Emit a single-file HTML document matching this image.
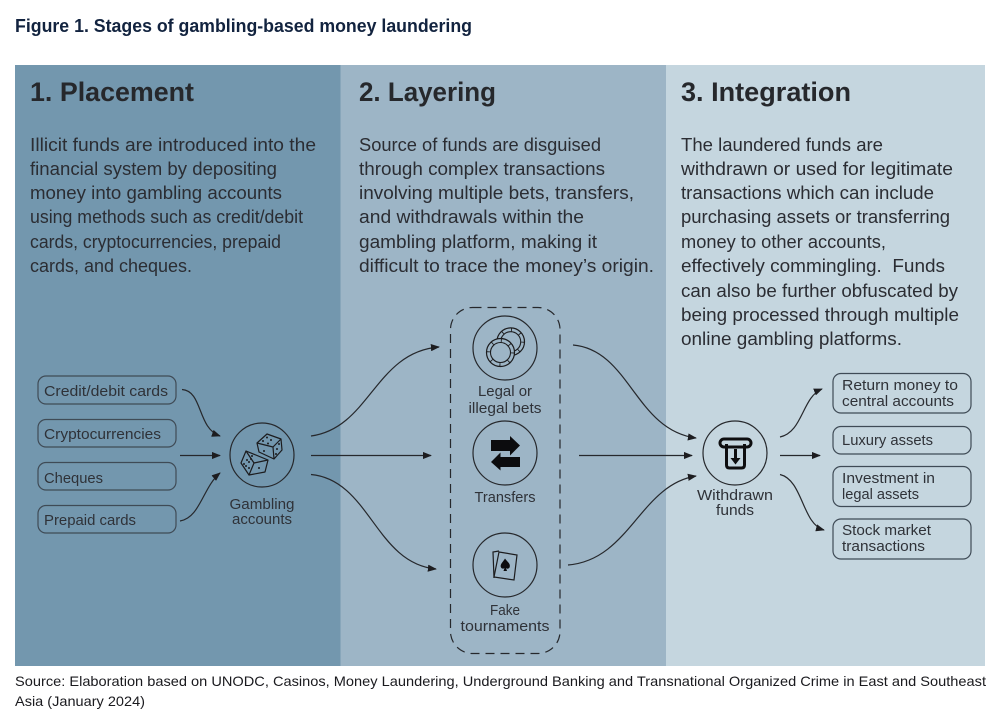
<!DOCTYPE html>
<html><head><meta charset="utf-8"><title>Figure 1</title>
<style>html,body{margin:0;padding:0;background:#fff;width:1006px;height:720px;overflow:hidden}
svg{display:block}
text{font-family:"Liberation Sans",sans-serif;fill:#2b2d33}
.b{font-size:18px}.s{font-size:15px;fill:#2f3238}.h{font-size:27px;font-weight:bold;fill:#26282c}
.c{fill:none;stroke:#26282c;stroke-width:1.2}.box{fill:none;stroke:#3f4b56;stroke-width:1.2}
.ic{fill:none;stroke:#1c1c1e;stroke-width:1.2}
</style></head><body>
<svg width="1006" height="720" viewBox="0 0 1006 720" xmlns="http://www.w3.org/2000/svg">
<defs><marker id="a" viewBox="0 0 10 8" refX="9" refY="4" markerWidth="9" markerHeight="7.2" markerUnits="userSpaceOnUse" orient="auto"><path d="M0 0L10 4L0 8Z" fill="#1d1d20"/></marker></defs>
<rect width="1006" height="720" fill="#fff"/>
<rect x="15" y="65" width="325.500" height="601" fill="#7397ae"/>
<rect x="340.500" y="65" width="325.500" height="601" fill="#9db5c6"/>
<rect x="666" y="65" width="319" height="601" fill="#c5d6df"/>
<text x="15" y="32" font-size="18" font-weight="bold" style="fill:#12233f" textLength="457" lengthAdjust="spacingAndGlyphs">Figure 1. Stages of gambling-based money laundering</text>
<text class="h" x="30" y="101" textLength="164" lengthAdjust="spacingAndGlyphs">1. Placement</text>
<text class="h" x="359" y="101" textLength="137" lengthAdjust="spacingAndGlyphs">2. Layering</text>
<text class="h" x="681" y="101" textLength="170" lengthAdjust="spacingAndGlyphs">3. Integration</text>
<g class="b">
<text class="b" x="30" y="151" textLength="286" lengthAdjust="spacingAndGlyphs">Illicit funds are introduced into the</text>
<text class="b" x="30" y="175" textLength="247" lengthAdjust="spacingAndGlyphs">financial system by depositing</text>
<text class="b" x="30" y="199" textLength="252" lengthAdjust="spacingAndGlyphs">money into gambling accounts</text>
<text class="b" x="30" y="223" textLength="273" lengthAdjust="spacingAndGlyphs">using methods such as credit/debit</text>
<text class="b" x="30" y="248" textLength="251" lengthAdjust="spacingAndGlyphs">cards, cryptocurrencies, prepaid</text>
<text class="b" x="30" y="272" textLength="162" lengthAdjust="spacingAndGlyphs">cards, and cheques.</text>
<text class="b" x="359" y="151" textLength="242" lengthAdjust="spacingAndGlyphs">Source of funds are disguised</text>
<text class="b" x="359" y="175" textLength="246" lengthAdjust="spacingAndGlyphs">through complex transactions</text>
<text class="b" x="359" y="199" textLength="275" lengthAdjust="spacingAndGlyphs">involving multiple bets, transfers,</text>
<text class="b" x="359" y="223" textLength="225" lengthAdjust="spacingAndGlyphs">and withdrawals within the</text>
<text class="b" x="359" y="248" textLength="238" lengthAdjust="spacingAndGlyphs">gambling platform, making it</text>
<text class="b" x="359" y="272" textLength="295" lengthAdjust="spacingAndGlyphs">difficult to trace the money’s origin.</text>
<text class="b" x="681" y="151" textLength="202" lengthAdjust="spacingAndGlyphs">The laundered funds are</text>
<text class="b" x="681" y="175" textLength="272" lengthAdjust="spacingAndGlyphs">withdrawn or used for legitimate</text>
<text class="b" x="681" y="199" textLength="253" lengthAdjust="spacingAndGlyphs">transactions which can include</text>
<text class="b" x="681" y="223" textLength="269" lengthAdjust="spacingAndGlyphs">purchasing assets or transferring</text>
<text class="b" x="681" y="248" textLength="205" lengthAdjust="spacingAndGlyphs">money to other accounts,</text>
<text class="b" x="681" y="272" textLength="264" lengthAdjust="spacingAndGlyphs" xml:space="preserve">effectively commingling.  Funds</text>
<text class="b" x="681" y="297" textLength="277" lengthAdjust="spacingAndGlyphs">can also be further obfuscated by</text>
<text class="b" x="681" y="321" textLength="278" lengthAdjust="spacingAndGlyphs">being processed through multiple</text>
<text class="b" x="681" y="345" textLength="221" lengthAdjust="spacingAndGlyphs">online gambling platforms.</text>
</g>
<!-- left boxes -->
<rect class="box" x="38" y="376" width="138" height="28" rx="8"/>
<rect class="box" x="38" y="419.500" width="138" height="27.500" rx="8"/>
<rect class="box" x="38" y="462.500" width="138" height="27.500" rx="8"/>
<rect class="box" x="38" y="505.500" width="138" height="27.500" rx="8"/>
<text class="s" x="44" y="396" textLength="124" lengthAdjust="spacingAndGlyphs">Credit/debit cards</text>
<text class="s" x="44" y="439" textLength="117" lengthAdjust="spacingAndGlyphs">Cryptocurrencies</text>
<text class="s" x="44" y="483" textLength="59" lengthAdjust="spacingAndGlyphs">Cheques</text>
<text class="s" x="44" y="525" textLength="92" lengthAdjust="spacingAndGlyphs">Prepaid cards</text>
<!-- connectors -->
<path class="c" marker-end="url(#a)" d="M182 389.500C203 391 197 428 220 436"/>
<path class="c" marker-end="url(#a)" d="M180 455.500H220"/>
<path class="c" marker-end="url(#a)" d="M180 521C200 518 203 487 220 473"/>
<path class="c" marker-end="url(#a)" d="M311 436C370 428 375 352 439 347"/>
<path class="c" marker-end="url(#a)" d="M311 455.500H431"/>
<path class="c" marker-end="url(#a)" d="M311 474.500C370 480 375 563 436 569"/>
<path class="c" marker-end="url(#a)" d="M573 345C630 350 635 430 696 438"/>
<path class="c" marker-end="url(#a)" d="M579 455.500H692"/>
<path class="c" marker-end="url(#a)" d="M568 565C630 560 640 485 696 476"/>
<path class="c" marker-end="url(#a)" d="M780 437C803 432 802 397 822 389"/>
<path class="c" marker-end="url(#a)" d="M780 455.500H820"/>
<path class="c" marker-end="url(#a)" d="M780 474.500C803 480 802 524 824 530"/>
<!-- dashed -->
<rect x="450.500" y="307.500" width="109.500" height="346" rx="22" fill="none" stroke="#26282c" stroke-width="1.200" stroke-dasharray="9 6"/>
<!-- circles -->
<g class="c"><circle cx="262" cy="455" r="32"/><circle cx="505" cy="348" r="32"/><circle cx="505" cy="453" r="32"/><circle cx="505" cy="565" r="32"/><circle cx="735" cy="453" r="32"/></g>
<!-- dice -->
<g class="ic" stroke-linejoin="round" fill="#7397ae">
<path fill="#7397ae" d="M246 451L241 463L249 475L265 472L268 460Z"/>
<path d="M246 451L254 463L268 460M254 463L249 475"/>
<path fill="#7397ae" d="M257 443L267 434L281 439L282 450L274 459L259 452Z"/>
<path d="M257 443L273 447L281 439M273 447L274 459"/>
</g>
<g fill="#1c1c1e"><circle cx="267" cy="437.500" r="1"/><circle cx="271" cy="440" r="1"/><circle cx="263" cy="441" r="1"/><circle cx="268" cy="443.500" r="1"/><circle cx="264" cy="451" r="1"/><circle cx="277" cy="449" r="1"/><circle cx="279" cy="444" r="1"/><circle cx="276" cy="454" r="1"/><circle cx="244" cy="464" r="1"/><circle cx="247" cy="460" r="1"/><circle cx="246" cy="466" r="1"/><circle cx="249" cy="462" r="1"/><circle cx="249" cy="468" r="1"/><circle cx="251" cy="459" r="1"/><circle cx="259" cy="468" r="1"/><circle cx="252" cy="456" r="1"/></g>
<!-- chips -->
<g fill="none" stroke="#1c1c1e">
<circle cx="510.700" cy="341.700" r="13.800" stroke-width="1.200"/><circle cx="510.700" cy="341.700" r="10" stroke-width="1.100"/>
<circle cx="510.700" cy="341.700" r="11.900" stroke-width="3.600" stroke-dasharray=".9 8.450"/>
<circle cx="500.500" cy="352.500" r="14" stroke-width="1.200" fill="#9db5c6"/><circle cx="500.500" cy="352.500" r="10" stroke-width="1.100"/>
<circle cx="500.500" cy="352.500" r="12" stroke-width="3.800" stroke-dasharray=".9 8.530"/>
</g>
<!-- transfer arrows -->
<path fill="#0c0c0e" d="M491 440H510V436L520 445.500L510 455.500V451H491Z"/>
<path fill="#0c0c0e" d="M520 457H500.500V452.500L491 462L500.500 470.500V467H520Z"/>
<!-- cards -->
<g class="ic" stroke-width="1.100"><path d="M499 551L493 552L494 578" /><path d="M499 552L517 555L514 580L494 577Z"/></g>
<path fill="#0c0c0e" d="M505 558.500C507.500 562 511 564 509.500 567.500C508.700 569 507 569 506 568L507 571H503.500L504.500 568C503.500 569 501.500 569 500.800 567C500 564 503 562 505 558.500Z"/>
<!-- ATM -->
<g fill="none" stroke="#0e0e10" stroke-width="3" stroke-linejoin="round"><rect x="720" y="439" width="31" height="8" rx="4"/><path d="M726.500 444V465Q726.500 468 729.500 468H741.500Q744.500 468 744.500 465V444"/></g>
<path fill="#0e0e10" d="M734 449H737V458H740.500L735.500 464.500L730.500 458H734Z"/>
<!-- node labels -->
<g text-anchor="middle">
<text class="s" x="262" y="509" textLength="65" lengthAdjust="spacingAndGlyphs">Gambling</text>
<text class="s" x="262" y="524" textLength="60" lengthAdjust="spacingAndGlyphs">accounts</text>
<text class="s" x="505" y="396" textLength="54" lengthAdjust="spacingAndGlyphs">Legal or</text>
<text class="s" x="505" y="413" textLength="73" lengthAdjust="spacingAndGlyphs">illegal bets</text>
<text class="s" x="505" y="502" textLength="61" lengthAdjust="spacingAndGlyphs">Transfers</text>
<text class="s" x="505" y="615" textLength="30" lengthAdjust="spacingAndGlyphs">Fake</text>
<text class="s" x="505" y="631" textLength="89" lengthAdjust="spacingAndGlyphs">tournaments</text>
<text class="s" x="735" y="500" textLength="76" lengthAdjust="spacingAndGlyphs">Withdrawn</text>
<text class="s" x="735" y="515" textLength="38" lengthAdjust="spacingAndGlyphs">funds</text>
</g>
<!-- right boxes -->
<rect class="box" x="833" y="373.500" width="138" height="39.500" rx="8"/>
<rect class="box" x="833" y="426.500" width="138" height="27.500" rx="8"/>
<rect class="box" x="833" y="466.500" width="138" height="40" rx="8"/>
<rect class="box" x="833" y="519" width="138" height="40" rx="8"/>
<text class="s" x="842" y="390" textLength="116" lengthAdjust="spacingAndGlyphs">Return money to</text>
<text class="s" x="842" y="406" textLength="112" lengthAdjust="spacingAndGlyphs">central accounts</text>
<text class="s" x="842" y="445" textLength="91" lengthAdjust="spacingAndGlyphs">Luxury assets</text>
<text class="s" x="842" y="483" textLength="93" lengthAdjust="spacingAndGlyphs">Investment in</text>
<text class="s" x="842" y="499" textLength="77" lengthAdjust="spacingAndGlyphs">legal assets</text>
<text class="s" x="842" y="535" textLength="89" lengthAdjust="spacingAndGlyphs">Stock market</text>
<text class="s" x="842" y="551" textLength="83" lengthAdjust="spacingAndGlyphs">transactions</text>
<!-- source -->
<text x="15" y="686" font-size="14" style="fill:#1a1a1e" textLength="971" lengthAdjust="spacingAndGlyphs">Source: Elaboration based on UNODC, Casinos, Money Laundering, Underground Banking and Transnational Organized Crime in East and Southeast</text>
<text x="15" y="706" font-size="14" style="fill:#1a1a1e" textLength="130" lengthAdjust="spacingAndGlyphs">Asia (January 2024)</text>
</svg>
</body></html>
